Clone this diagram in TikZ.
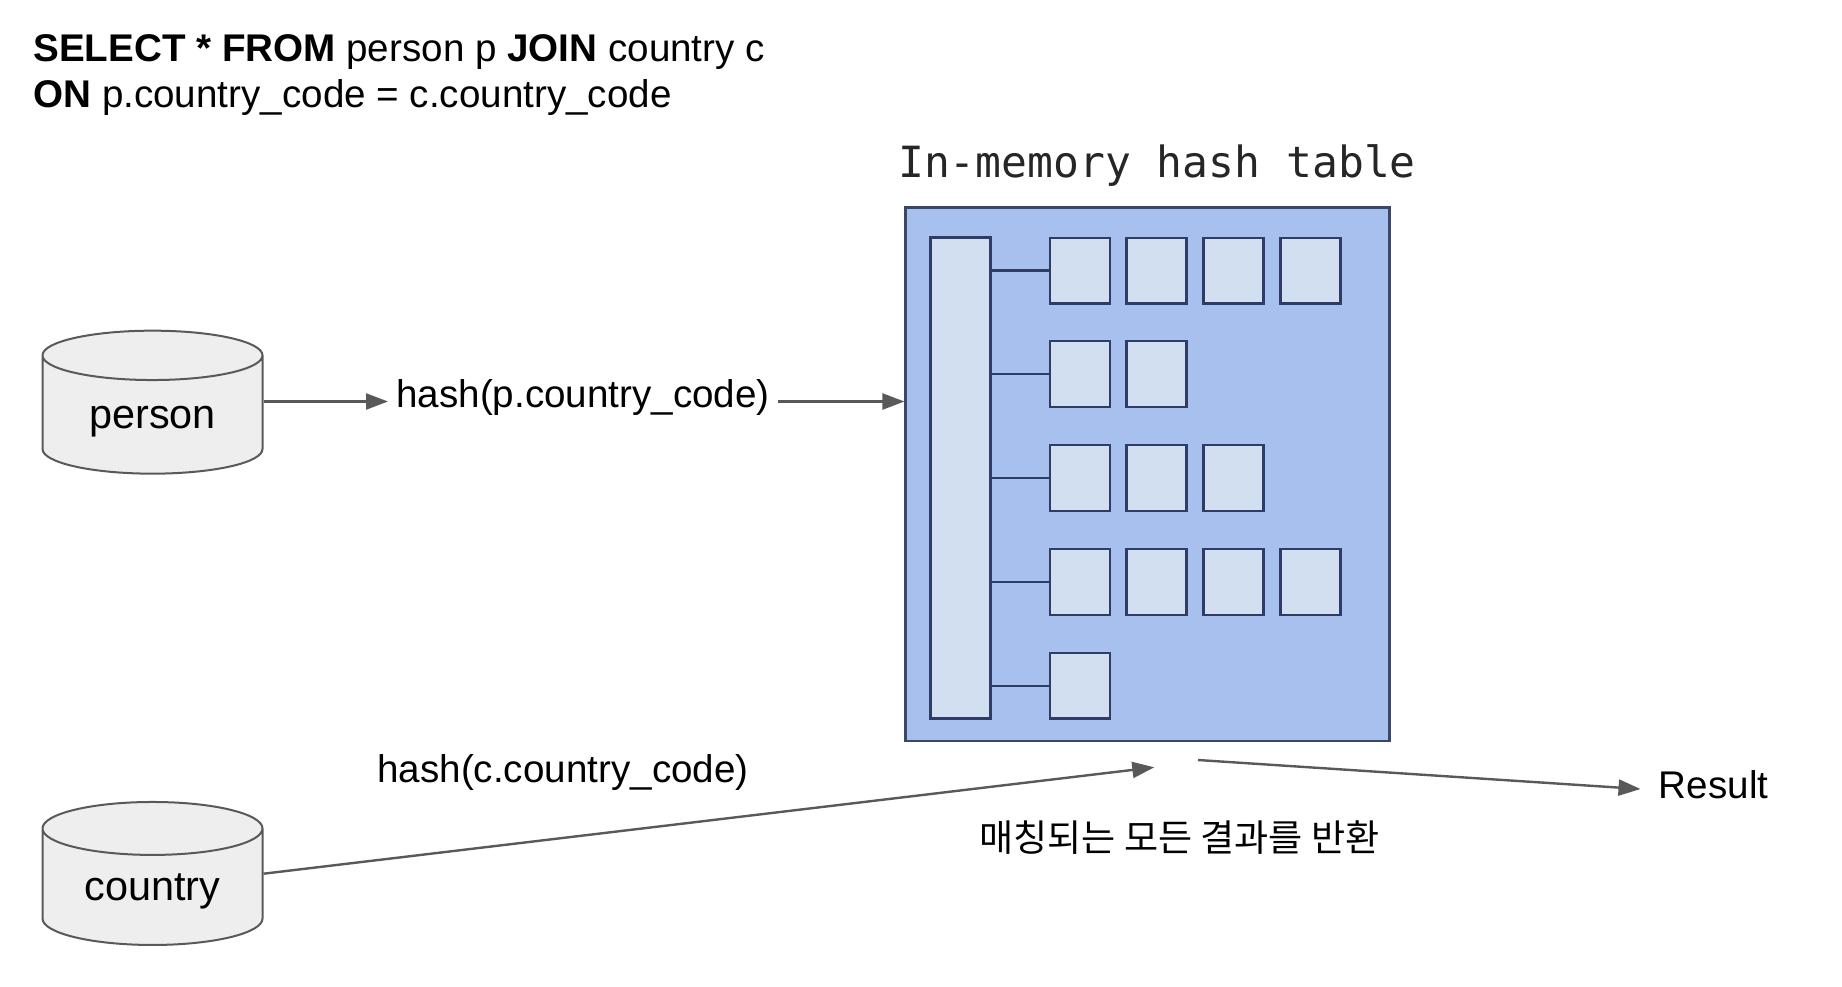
\documentclass[tikz,border=0pt]{standalone}
\usepackage{fontspec}
\usepackage{tikz}
\usetikzlibrary{arrows.meta,shapes.geometric}
\setmainfont{Liberation Sans}
\setmonofont{DejaVu Sans Mono}
\newfontfamily\krfont{Noto Sans CJK KR}
\definecolor{tablefill}{HTML}{A8C0EE}
\definecolor{tableline}{HTML}{3A4766}
\definecolor{cellfill}{HTML}{D2DFF0}
\definecolor{cellline}{HTML}{2F3C66}
\definecolor{linegray}{HTML}{595959}
\definecolor{dbfill}{HTML}{EEEEEE}
\tikzset{
  txt/.style={font=\fontsize{19.3}{23}\selectfont,inner sep=0pt,anchor=base west},
  db/.style={shape=cylinder,shape border rotate=90,shape aspect=0.39,draw=linegray,fill=dbfill,line width=1pt,
    minimum width=110pt,minimum height=71.5pt,inner sep=0pt,text height=18pt,text depth=5pt,font=\fontsize{20.7}{24}\selectfont},
  cell/.style={draw=cellline,fill=cellfill,line width=1.2pt,minimum width=30pt,minimum height=32.8pt,inner sep=0pt},
  link/.style={draw=cellline,line width=1.2pt},
  arrow/.style={draw=linegray,line width=1.2pt,-{Triangle[length=11pt,width=8pt]}}
}
\begin{document}
\begin{tikzpicture}[x=0.5pt,y=-0.5pt]
\useasboundingbox (0, 0) rectangle (1842, 986);
\node [txt] (sql1) at (33, 61) {\textbf{SELECT * FROM} person p \textbf{JOIN} country c};
\node [txt] (sql2) at (33, 107) {\textbf{ON} p.country\_code = c.country\_code};
\node [font=\ttfamily\fontsize{21.5}{26}\selectfont,text=black!85,inner sep=0pt,anchor=base] (title) at (1157, 177) {In-memory hash table};
\node [draw=tableline,fill=tablefill,line width=1.2pt,minimum width=242pt,minimum height=266.8pt,inner sep=0pt] (table) at (1147.6, 474.2) {};
\node [cell,minimum height=240.5pt] (bar) at (960.3, 478) {};
\node [cell] (s11) at (1079.8, 270.5) {};
\node [cell] (s12) at (1156.6, 270.5) {};
\node [cell] (s13) at (1233.5, 270.5) {};
\node [cell] (s14) at (1310.4, 270.5) {};
\node [cell] (s21) at (1079.8, 374) {};
\node [cell] (s22) at (1156.6, 374) {};
\node [cell] (s31) at (1079.8, 478) {};
\node [cell] (s32) at (1156.6, 478) {};
\node [cell] (s33) at (1233.5, 478) {};
\node [cell] (s41) at (1079.8, 582) {};
\node [cell] (s42) at (1156.6, 582) {};
\node [cell] (s43) at (1233.5, 582) {};
\node [cell] (s44) at (1310.4, 582) {};
\node [cell] (s51) at (1079.8, 685.7) {};
\draw [link] (bar.east |- s11.west) -- (s11.west);
\draw [link] (bar.east |- s21.west) -- (s21.west);
\draw [link] (bar.east |- s31.west) -- (s31.west);
\draw [link] (bar.east |- s41.west) -- (s41.west);
\draw [link] (bar.east |- s51.west) -- (s51.west);
\node [db] (person) at (152.5, 415) {person};
\node [db] (country) at (152.5, 887.2) {country};
\node [txt,inner xsep=4pt] (hashp) at (388, 407) {hash(p.country\_code)};
\node [txt] (hashc) at (377, 782) {hash(c.country\_code)};
\node [txt,inner xsep=9pt,text depth=5pt] (result) at (1640.5, 798) {Result};
\node [font=\krfont\fontsize{18.55}{22}\selectfont,inner sep=0pt,anchor=base] (found) at (1179.5, 851) {매칭되는 모든 결과를 반환};
\coordinate (pout) at ([yshift=6.75pt]person.east);
\coordinate (cout) at ([yshift=6.75pt]country.east);
\coordinate (probe) at (1154.3, 767.3);
\coordinate (emit) at (1198, 760);
\draw [arrow] (pout) -- (pout -| hashp.west);
\draw [arrow] (hashp.east |- pout) -- (pout -| table.west);
\draw [arrow] (cout) -- (probe);
\draw [arrow] (emit) -- (result.west);
\end{tikzpicture}
\end{document}
